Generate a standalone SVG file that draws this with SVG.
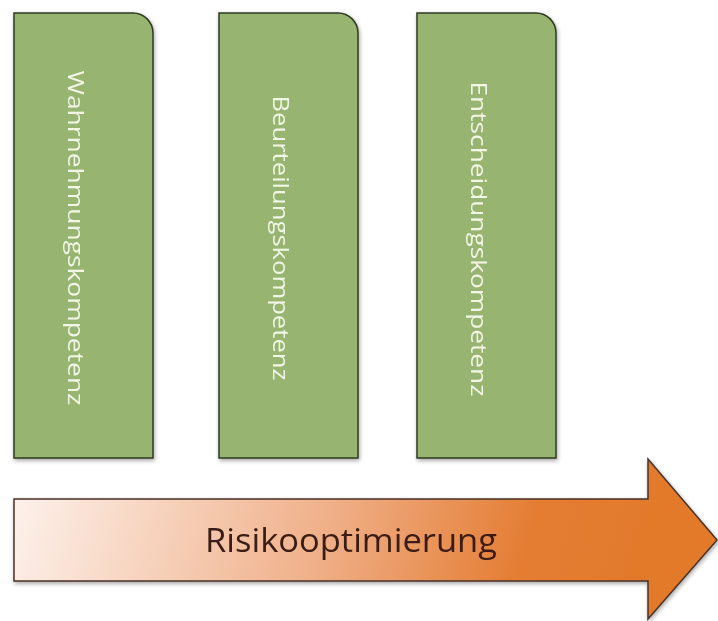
<svg xmlns="http://www.w3.org/2000/svg" width="718" height="621" viewBox="0 0 718 621">
  <defs>
    <linearGradient id="arrowFill" x1="14" y1="470" x2="620" y2="640" gradientUnits="userSpaceOnUse">
      <stop offset="0" stop-color="#fdf3ee"/>
      <stop offset="0.5" stop-color="#f0b089"/>
      <stop offset="0.82" stop-color="#e47c32"/>
      <stop offset="1" stop-color="#e27a2c"/>
    </linearGradient>
    <filter id="shadow" x="-10%" y="-10%" width="130%" height="130%">
      <feGaussianBlur in="SourceAlpha" stdDeviation="2"/>
      <feOffset dx="1" dy="2" result="b"/>
      <feComponentTransfer><feFuncA type="linear" slope="0.35"/></feComponentTransfer>
      <feMerge><feMergeNode/><feMergeNode in="SourceGraphic"/></feMerge>
    </filter>
  </defs>
  <style>
    .pillar { fill: #97b56f; stroke: #2e3a24; stroke-width: 1.5; }
    .pillar-label { fill: #f1f6e6; font-family: "Open Sans", "Liberation Sans", sans-serif; font-size: 21px; text-anchor: middle; dominant-baseline: central; }
    .arrow { fill: url(#arrowFill); stroke: #4a3226; stroke-width: 1.5; }
    .arrow-label { fill: #3a1c12; font-family: "Open Sans", "Liberation Sans", sans-serif; font-size: 32px; text-anchor: middle; dominant-baseline: central; }
  </style>

  <g id="pillar-wahrnehmung" filter="url(#shadow)">
    <path class="pillar" d="M14 13 H133 A20 20 0 0 1 153 33 V458 H14 Z"/>
    <text class="pillar-label" transform="translate(76 238) rotate(90)" textLength="335" lengthAdjust="spacingAndGlyphs">Wahrnehmungskompetenz</text>
  </g>

  <g id="pillar-beurteilung" filter="url(#shadow)">
    <path class="pillar" d="M219 13 H338 A20 20 0 0 1 358 33 V458 H219 Z"/>
    <text class="pillar-label" transform="translate(281 238) rotate(90)" textLength="285" lengthAdjust="spacingAndGlyphs">Beurteilungskompetenz</text>
  </g>

  <g id="pillar-entscheidung" filter="url(#shadow)">
    <path class="pillar" d="M417 13 H536 A20 20 0 0 1 556 33 V458 H417 Z"/>
    <text class="pillar-label" transform="translate(479 239) rotate(90)" textLength="315" lengthAdjust="spacingAndGlyphs">Entscheidungskompetenz</text>
  </g>

  <g id="risikooptimierung" filter="url(#shadow)">
    <path class="arrow" d="M14 499 H648 V459 L717 540 L648 619 V581 H14 Z"/>
    <text class="arrow-label" x="351" y="539" textLength="292" lengthAdjust="spacingAndGlyphs">Risikooptimierung</text>
  </g>
</svg>
